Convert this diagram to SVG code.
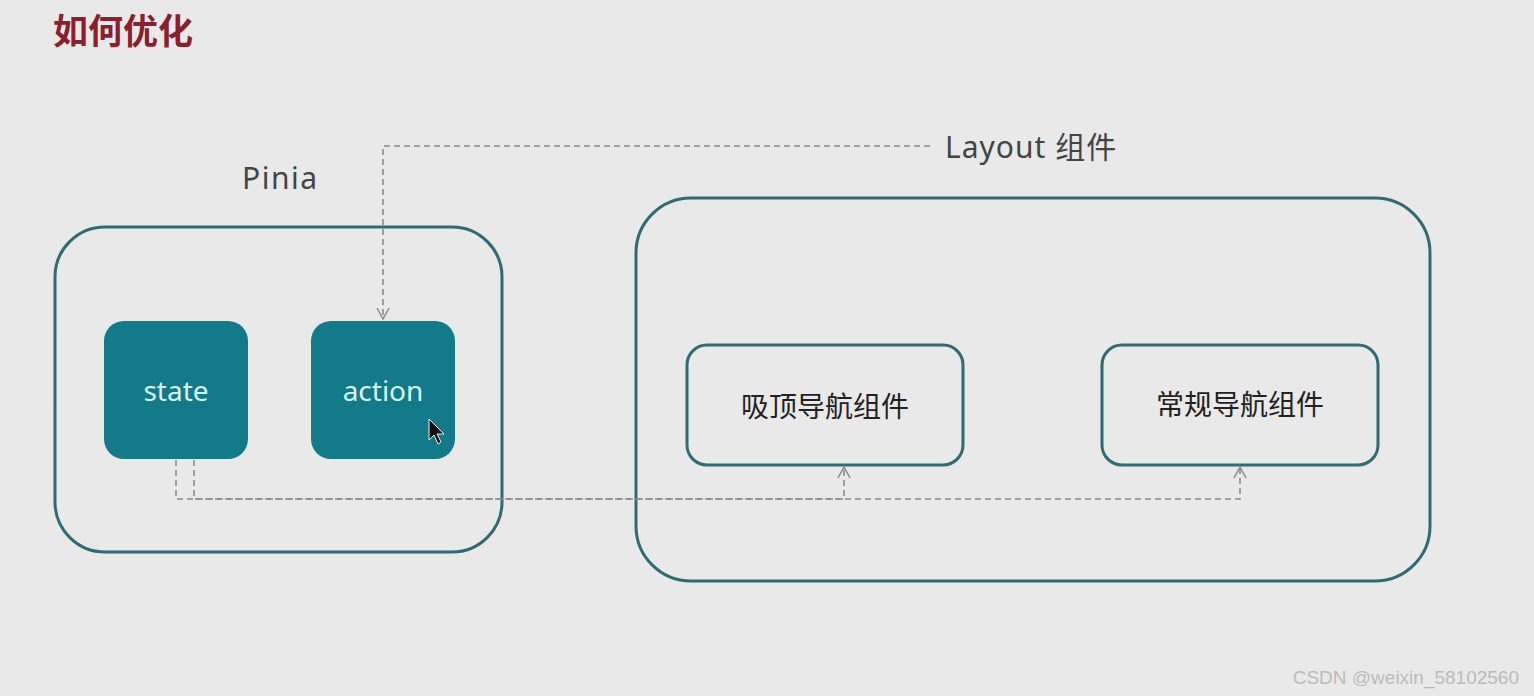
<svg xmlns="http://www.w3.org/2000/svg" width="1534" height="696" viewBox="0 0 1534 696">
<defs>
<style>
.outline{fill:none;stroke:#2f6b73;stroke-width:3}
.store{fill:#137a8a;stroke:none}
.nav{fill:none;stroke:#2f6b73;stroke-width:3}
.dash{fill:none;stroke:#8a8a8a;stroke-width:1.6;stroke-dasharray:6 4}
.cjk{font-family:"Noto Sans CJK SC","Noto Sans",sans-serif}
.lbl{font-family:"Noto Sans","Noto Sans CJK SC",sans-serif;fill:#444;font-size:30px}
.inner{font-family:"Noto Sans","Noto Sans CJK SC",sans-serif;fill:#d8f4f4;font-size:28px;text-anchor:middle}
.navt{font-family:"Noto Sans CJK SC",sans-serif;fill:#222;font-size:28px;text-anchor:middle}
</style>
<marker id="arr" viewBox="0 0 14 14" refX="13" refY="7" markerWidth="14" markerHeight="14" markerUnits="userSpaceOnUse" orient="auto">
<path d="M2,1 L13,7 L2,13" fill="none" stroke="#8a8a8a" stroke-width="1.5"/>
</marker>
</defs>
<rect width="1534" height="696" fill="#e9e9e9"/>
<text x="53" y="44" class="cjk" font-size="35" font-weight="bold" fill="#8b1f2d">如何优化</text>
<text x="242" y="189" class="lbl" letter-spacing="1.5">Pinia</text>
<text x="945" y="158" class="lbl" font-size="31" letter-spacing="1">Layout 组件</text>
<g id="pinia"><rect x="55" y="227" width="447" height="325" rx="50" class="outline"/></g>
<g id="layout"><rect x="636" y="198" width="794" height="383" rx="55" class="outline"/></g>
<g id="state"><rect x="104" y="321" width="144" height="138" rx="20" class="store"/><text x="176" y="401" class="inner">state</text></g>
<g id="action"><rect x="311" y="321" width="144" height="138" rx="20" class="store"/><text x="383" y="401" class="inner">action</text>
<path d="M429,419 L429,440 L434,435 L438,444 L441,442 L437,434 L444,434 Z" fill="#111" stroke="#eee" stroke-width="1"/></g>
<g id="sticky-nav"><rect x="687" y="345" width="276" height="120" rx="20" class="nav"/><text x="825" y="417" class="navt">吸顶导航组件</text></g>
<g id="normal-nav"><rect x="1102" y="345" width="276" height="120" rx="20" class="nav"/><text x="1240" y="415" class="navt">常规导航组件</text></g>
<g id="connectors">
<path d="M930,146 L383,146 L383,319" class="dash" marker-end="url(#arr)"/>
<path d="M176,460 L176,499 L844,499 L844,467" class="dash" marker-end="url(#arr)"/>
<path d="M194,460 L194,499 L1240,499 L1240,467" class="dash" marker-end="url(#arr)"/>
</g>
<text x="1519" y="684" font-family="Liberation Sans,sans-serif" font-size="19" fill="#bbb" text-anchor="end">CSDN @weixin_58102560</text>
</svg>
